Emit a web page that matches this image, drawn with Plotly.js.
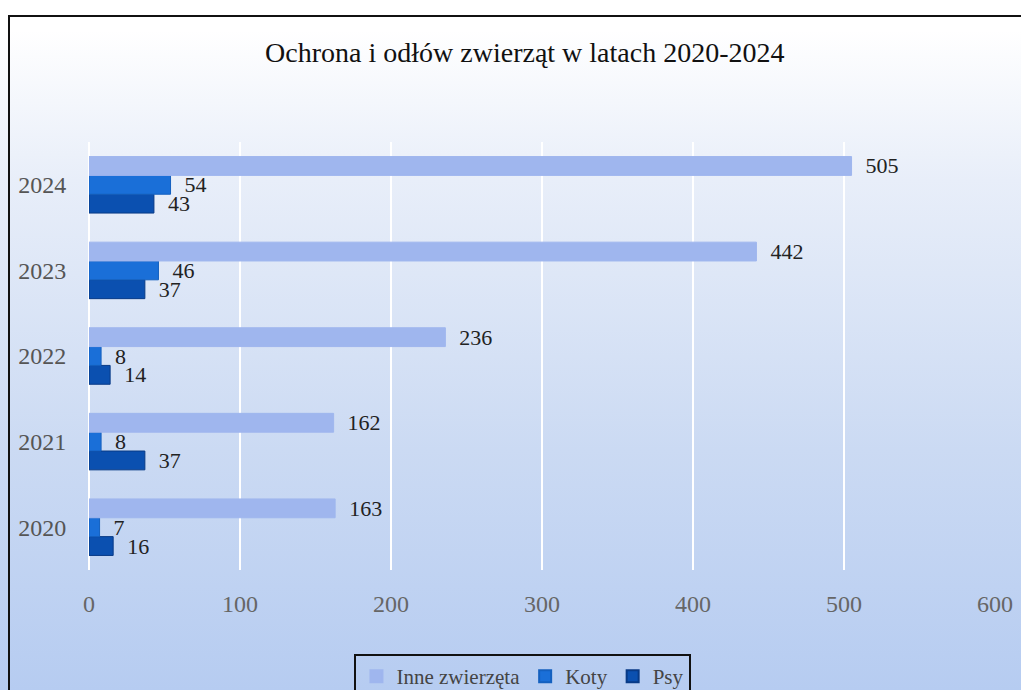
<!DOCTYPE html>
<html>
<head>
<meta charset="utf-8">
<script src="https://cdn.plot.ly/plotly-3.0.1.min.js"></script>
<style>
  html, body { margin:0; padding:0; width:1021px; height:690px; overflow:hidden; background:#ffffff; }
  #bg { position:absolute; left:0; top:0; width:1021px; height:690px;
        background: linear-gradient(to bottom, #ffffff 0px, #ffffff 30px, #e8eef9 180px, #cbdaf3 450px, #b6ccf1 690px); }
  #frame { position:absolute; left:8px; top:15px; width:1060px; height:720px; border:2px solid #111; box-sizing:border-box; }
  #chart { position:absolute; left:0; top:0; width:1021px; height:730px; }
</style>
</head>
<body>
<div id="bg"></div>
<div id="frame"></div>
<div id="chart"></div>
<script>
const years = ['2020', '2021', '2022', '2023', '2024'];
const inne = [163, 162, 236, 442, 505];
const koty = [7, 8, 8, 46, 54];
const psy = [16, 37, 14, 37, 43];
const seriesNames = ['Inne zwierzęta', 'Koty', 'Psy'];
const xTicks = [0, 100, 200, 300, 400, 500, 600];

const serif = 'Liberation Serif, DejaVu Serif, serif';
const labelFont = {family: serif, size: 22, color: '#222'};

function mk(name, vals, color, lineColor) {
  return {
    type: 'bar', orientation: 'h', name: name,
    y: years, x: vals,
    text: vals.map(v => '\u00a0\u00a0' + v),
    textposition: 'outside', cliponaxis: false, constraintext: 'none',
    textfont: labelFont,
    marker: {color: color, line: {color: lineColor, width: 1}},
    hoverinfo: 'x+name'
  };
}

const data = [
  mk(seriesNames[2], psy, '#0b50b0', '#083a86'),
  mk(seriesNames[1], koty, '#1a6fd8', '#1460bf'),
  mk(seriesNames[0], inne, '#9fb6ee', '#9fb6ee')
];

const layout = {
  width: 1021, height: 730,
  paper_bgcolor: 'rgba(0,0,0,0)', plot_bgcolor: 'rgba(0,0,0,0)',
  margin: {l: 89, r: 26, t: 142, b: 160},
  title: {text: 'Ochrona i odłów zwierząt w latach 2020-2024', x: 0.514, xanchor: 'center', y: 1 - 52/730, yref: 'container', yanchor: 'middle',
          font: {family: serif, size: 28, color: '#111'}},
  barmode: 'group', bargap: 0.34, bargroupgap: 0,
  xaxis: {range: [0, 600], tickvals: xTicks, ticktext: xTicks.map(String),
          showgrid: true, gridcolor: '#ffffff', gridwidth: 1.5, zeroline: true, zerolinecolor: '#ffffff', zerolinewidth: 1.5,
          ticks: 'outside', ticklen: 12, tickcolor: 'rgba(0,0,0,0)', showline: false,
          tickfont: {family: serif, size: 24, color: '#666'}, fixedrange: true},
  yaxis: {type: 'category', categoryorder: 'array', categoryarray: years,
          showgrid: false, zeroline: false, showline: false,
          ticks: 'outside', ticklen: 17, tickcolor: 'rgba(0,0,0,0)',
          tickfont: {family: serif, size: 24, color: '#555'}, fixedrange: true},
  showlegend: true,
  legend: {orientation: 'h', traceorder: 'reversed', x: 0.479, xanchor: 'center', y: -(654-570)/428, yanchor: 'top',
           bgcolor: 'rgba(0,0,0,0)', bordercolor: '#111', borderwidth: 2,
           font: {family: serif, size: 21, color: '#444'},
           itemwidth: 30, itemsizing: 'constant'}
};

Plotly.newPlot('chart', data, layout, {displayModeBar: false, staticPlot: true});
</script>
</body>
</html>
